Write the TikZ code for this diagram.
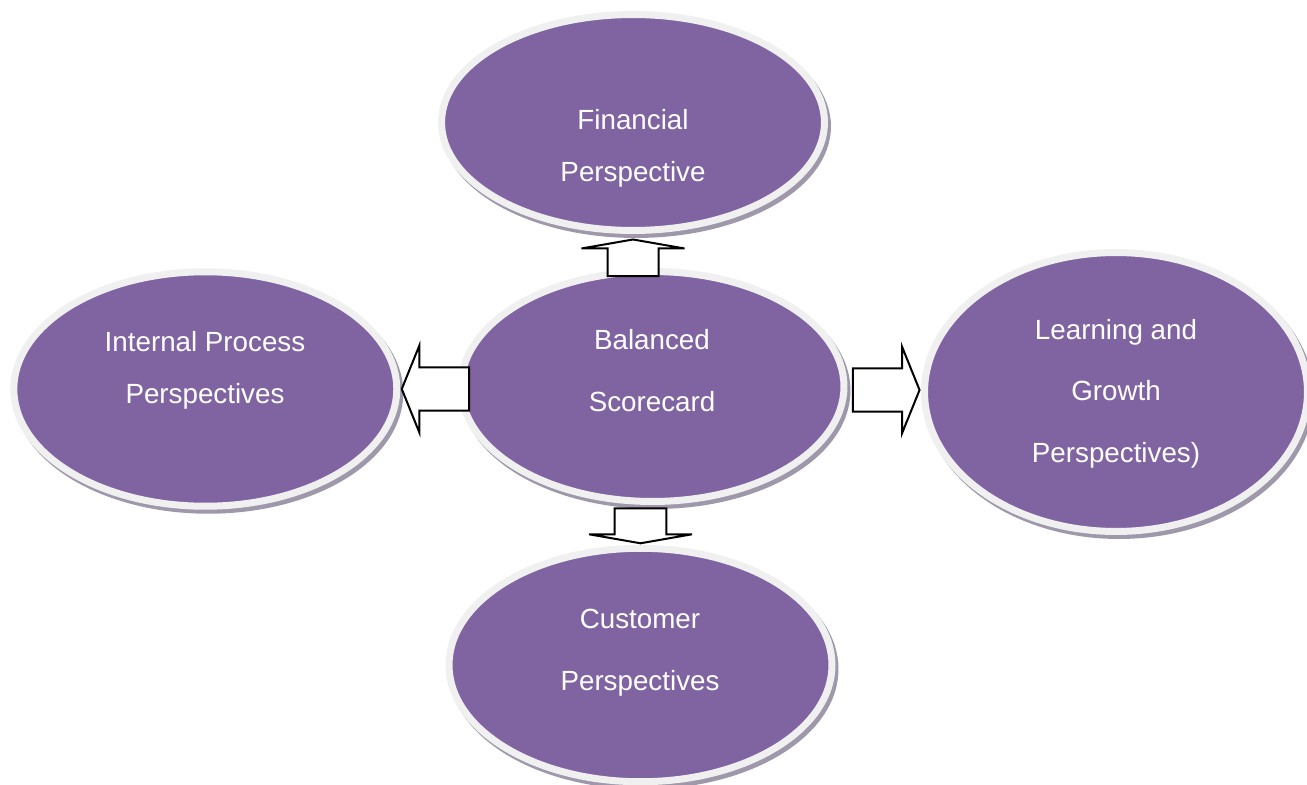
\documentclass[tikz,border=0pt]{standalone}
\usepackage{fontspec}
\setmainfont{Liberation Sans}
\usetikzlibrary{shapes, arrows, positioning, calc, shadows}

\definecolor{perspurple}{RGB}{128,100,162}
\definecolor{rimgray}{RGB}{240,240,240}
\definecolor{shadowgray}{RGB}{158,152,170}

% hollow block arrow between two points: shaft half width / head half width / head length
\tikzset{
  blockarrow/.style n args={3}{draw=black, line width=0.04cm, fill=white,
    to path={let \p1=(\tikztostart), \p2=(\tikztotarget),
      \n1={atan2(\y2-\y1,\x2-\x1)}, \n2={veclen(\x2-\x1,\y2-\y1)} in
      {[shift={(\p1)}, rotate=\n1]
        (0pt,-#1) -- ({\n2-#3},-#1) -- ({\n2-#3},-#2) -- (\n2,0pt)
        -- ({\n2-#3},#2) -- ({\n2-#3},#1) -- (0pt,#1) -- cycle}}}
}

\begin{document}
\begin{tikzpicture}[x=0.02cm, y=-0.02cm]
\tikzstyle{persp} = [ellipse, fill=perspurple, draw=rimgray, line width=0.14cm, outer sep=0pt, minimum width=7.66cm,
  drop shadow={shadow xshift=0.06cm, shadow yshift=-0.08cm, opacity=1, fill=shadowgray, draw=shadowgray, line width=0.14cm}]
\tikzstyle{perstext} = [text=white, align=center, font=\fontsize{15.8pt}{29.9pt}\selectfont]
\tikzstyle{perstextwide} = [text=white, align=center, font=\fontsize{15.8pt}{35.1pt}\selectfont]

\fill[white] (0,0) rectangle (1307,784);
\useasboundingbox (0,0) rectangle (1307,784);

\node[persp, minimum height=4.32cm] (fin) at (633,122.5) {};
\node[persp, minimum height=4.6cm] (bsc) at (652.5,386.5) {};
\node[persp, minimum height=4.69cm] (ipp) at (205.3,389) {};
\node[persp, minimum height=5.58cm] (lgp) at (1116,392) {};
\node[persp, minimum height=4.67cm] (cus) at (640.5,665) {};

\node[perstext] (fin-t) at (633,148.5) {Financial\\Perspective};
\node[perstextwide] (bsc-t) at (652,370.5) {Balanced\\Scorecard};
\node[perstext] (ipp-t) at (205,370.5) {Internal Process\\Perspectives};
\node[perstextwide] (lgp-t) at (1116,393.5) {Learning and\\Growth\\Perspectives)};
\node[perstextwide] (cus-t) at (640,653) {Customer\\Perspectives};

\draw [blockarrow={0.51cm}{1.03cm}{0.18cm}] ($(fin.south |- bsc.north)+(0,4.5)$) to ($(fin.south)+(0,9)$);
\draw [blockarrow={0.434cm}{0.866cm}{0.35cm}] ($(bsc.west |- ipp.east)+(8,0)$) to ($(ipp.east)+(5,0)$);
\draw [blockarrow={0.434cm}{0.866cm}{0.35cm}] ($(bsc.east |- lgp.west)+(9,-2)$) to ($(lgp.west)+(-5,-2)$);
\draw [blockarrow={0.516cm}{1.03cm}{0.18cm}] ($(cus.north |- bsc.south)+(0,7)$) to ($(cus.north)+(0,-5)$);
\end{tikzpicture}
\end{document}
